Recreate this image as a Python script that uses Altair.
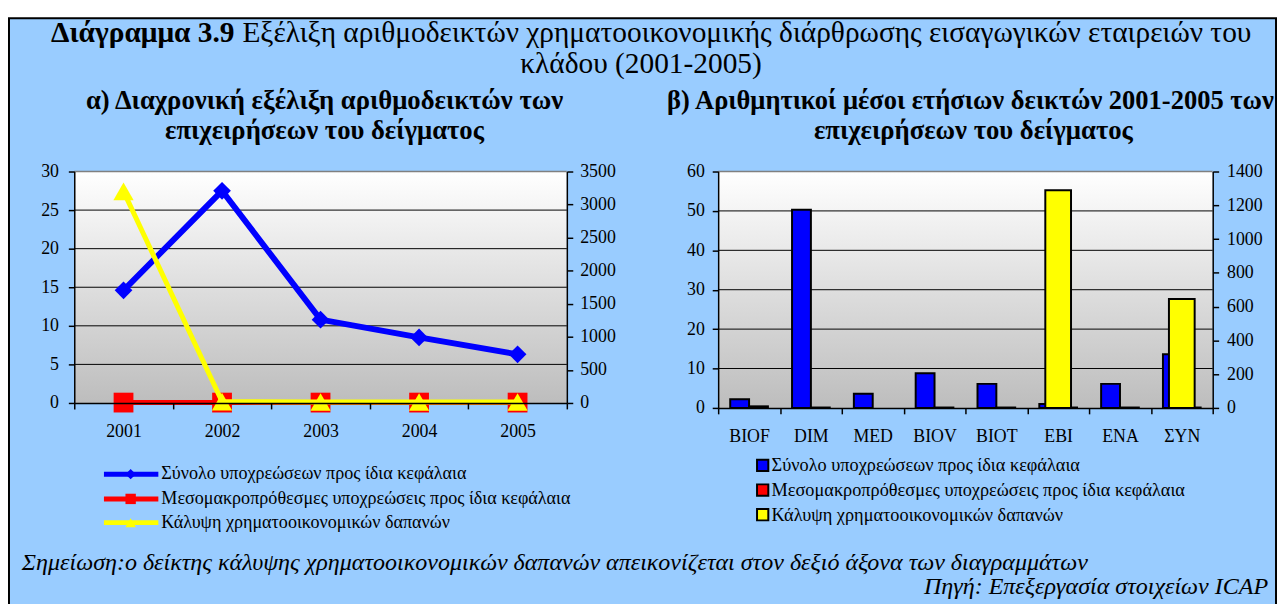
import altair as alt
import pandas as pd

# ---------------- data ----------------
years = ["2001", "2002", "2003", "2004", "2005"]
total_liab = [14.6, 27.5, 10.8, 8.5, 6.3]
longterm_liab = [0.05, 0.05, 0.05, 0.05, 0.05]
coverage = [3200, 20, 15, 15, 15]

firms = ["BIOF", "DIM", "MED", "BIOV", "BIOT", "EBI", "ENA", "ΣΥΝ"]
avg_total = [2.2, 50.3, 3.6, 8.8, 6.1, 1.0, 6.1, 13.6]
avg_longterm = [0.4, 0.1, 0.0, 0.1, 0.1, 0.1, 0.1, 0.1]
avg_coverage = [0, 0, 0, 0, 0, 1289, 0, 645]

series_names = [
    "Σύνολο υποχρεώσεων προς ίδια κεφάλαια",
    "Μεσομακροπρόθεσμες υποχρεώσεις προς ίδια κεφάλαια",
    "Κάλυψη χρηματοοικονομικών δαπανών",
]
series_colors = ["#0000FF", "#FF0000", "#FFFF00"]
line_shapes = ["diamond", "square", "triangle-up"]

left_ticks = [0, 5, 10, 15, 20, 25, 30]
left_right_ticks = [0, 500, 1000, 1500, 2000, 2500, 3000, 3500]
right_ticks = [0, 10, 20, 30, 40, 50, 60]
right_right_ticks = [0, 200, 400, 600, 800, 1000, 1200, 1400]

title_bold = "Διάγραμμα 3.9"
title_rest = "Εξέλιξη αριθμοδεικτών χρηματοοικονομικής διάρθρωσης εισαγωγικών εταιρειών του"
title_line2 = "κλάδου (2001-2005)"
sub_left = ["α) Διαχρονική εξέλιξη αριθμοδεικτών των", "επιχειρήσεων του δείγματος"]
sub_right = ["β) Αριθμητικοί μέσοι ετήσιων δεικτών 2001-2005 των", "επιχειρήσεων του δείγματος"]
note_text = "Σημείωση:ο δείκτης κάλυψης χρηματοοικονομικών δαπανών απεικονίζεται στον δεξιό άξονα των διαγραμμάτων"
source_text = "Πηγή: Επεξεργασία στοιχείων ICAP"

# ---------------- styling ----------------
FONT = "Liberation Serif"
BG = "#99CCFF"
W1, H1 = 498, 234
W2, H2 = 500, 239
one = pd.DataFrame({"k": [0]})


def txt(t, x, y, size, weight="normal", style="normal", align="left", baseline="alphabetic"):
    return alt.Chart(one).mark_text(
        text=t, font=FONT, fontSize=size, fontWeight=weight, fontStyle=style,
        align=align, baseline=baseline, color="black"
    ).encode(x=alt.value(x), y=alt.value(y))


def plot_bg(w, h):
    grad = alt.LinearGradient(
        gradient="linear",
        stops=[alt.GradientStop(color="#FFFFFF", offset=0),
               alt.GradientStop(color="#BDBDBD", offset=1)],
        x1=0, x2=0, y1=0, y2=1,
    )
    return alt.Chart(one).mark_rect(fill=grad).encode(
        x=alt.value(0), x2=alt.value(w), y=alt.value(0), y2=alt.value(h))


def top_border(w):
    return alt.Chart(one).mark_rule(color="#808080", strokeWidth=1.5).encode(
        x=alt.value(0), x2=alt.value(w), y=alt.value(0))


def yaxis(values, orient, pad):
    return alt.Axis(values=values, orient=orient, title=None, grid=False, format="d",
                    labelFont=FONT, labelFontSize=18, labelColor="black",
                    tickColor="black", tickSize=6, tickWidth=1.5,
                    domainColor="black", domainWidth=1.5, labelPadding=pad,
                    zindex=1, labelOverlap=False)


def xaxis(pad):
    return alt.Axis(title=None, labelAngle=0, tickBand="extent", grid=False,
                    labelFont=FONT, labelFontSize=18, labelColor="black",
                    tickColor="black", tickSize=6, tickWidth=1.5,
                    domainColor="black", domainWidth=1.5, labelPadding=pad,
                    zindex=1)


# ---------------- left panel: lines ----------------
dfB = pd.DataFrame({"year": years, "v": total_liab})
dfR = pd.DataFrame({"year": years, "v": longterm_liab})
dfY = pd.DataFrame({"year": years, "v2": coverage})
dfGL = pd.DataFrame({"v": left_ticks[1:-1]})

xL = alt.X("year:N", sort=years, scale=alt.Scale(type="band", paddingInner=0, paddingOuter=0), axis=xaxis(14))
yL = alt.Y("v:Q", scale=alt.Scale(domain=[0, 30], nice=False), axis=yaxis(left_ticks, "left", 10))
yL2 = alt.Y("v2:Q", scale=alt.Scale(domain=[0, 3500], nice=False), axis=yaxis(left_right_ticks, "right", 7))

gridL = alt.Chart(dfGL).mark_rule(color="black", strokeWidth=1).encode(
    y=yL, x=alt.value(0), x2=alt.value(W1))
blue_line = alt.Chart(dfB).mark_line(color=series_colors[0], strokeWidth=6).encode(x=xL, y=yL)
blue_pts = alt.Chart(dfB).mark_point(shape=line_shapes[0], filled=True, size=320, opacity=1,
                                     color=series_colors[0]).encode(x=xL, y=yL)
red_line = alt.Chart(dfR).mark_line(color=series_colors[1], strokeWidth=5).encode(x=xL, y=yL)
red_pts = alt.Chart(dfR).mark_point(shape=line_shapes[1], filled=True, size=400, opacity=1,
                                    color=series_colors[1]).encode(x=xL, y=yL)
yel_line = alt.Chart(dfY).mark_line(color=series_colors[2], strokeWidth=5).encode(x=xL, y=yL2)
yel_pts = alt.Chart(dfY).mark_point(shape=line_shapes[2], filled=True, size=420, opacity=1,
                                    color=series_colors[2]).encode(x=xL, y=yL2)

innerL = alt.layer(gridL, blue_line, blue_pts, red_line, red_pts)
yellowL = alt.layer(yel_line, yel_pts)

# frame box and texts (coordinates relative to left plot origin)
box = alt.Chart(one).mark_rect(fill=BG, stroke="black", strokeWidth=2).encode(
    x=alt.value(-66), x2=alt.value(1215), y=alt.value(-155), y2=alt.value(440))

decor_left = [
    txt(title_bold, 162, -131, 29.7, weight="bold", align="right"),
    txt(title_rest, 170, -131, 29.7),
    txt(title_line2, 573, -100, 29.7, align="center"),
    txt(sub_left[0], 253, -63, 27, weight="bold", align="center"),
    txt(sub_left[1], 253, -33, 27, weight="bold", align="center"),
    txt(note_text, -53, 403, 24.3, style="italic"),
    txt(source_text, 1207, 427, 24.3, style="italic", align="right"),
]
legend_rows_L = [306, 331, 355]
for name, col, shp, ry in zip(series_names, series_colors, line_shapes, legend_rows_L):
    decor_left.append(alt.Chart(one).mark_rule(color=col, strokeWidth=5).encode(
        x=alt.value(30), x2=alt.value(85), y=alt.value(ry)))
    decor_left.append(alt.Chart(one).mark_point(shape=shp, filled=True, size=110, opacity=1, color=col).encode(
        x=alt.value(57), y=alt.value(ry)))
    decor_left.append(txt(name, 88, ry, 18.3, baseline="middle"))

left = alt.layer(box, plot_bg(W1, H1), innerL, yellowL, top_border(W1), *decor_left).resolve_scale(
    y="independent").properties(width=W1, height=H1)

# ---------------- right panel: bars ----------------
bar_rows = []
for f, a, b in zip(firms, avg_total, avg_longterm):
    bar_rows.append({"firm": f, "s": "a", "v": a})
    bar_rows.append({"firm": f, "s": "b", "v": b})
dfBars = pd.DataFrame(bar_rows)
dfYB = pd.DataFrame({"firm": firms, "v2": avg_coverage})
dfGR = pd.DataFrame({"v": right_ticks[1:-1]})

xR = alt.X("firm:N", sort=firms, scale=alt.Scale(paddingInner=0, paddingOuter=0), axis=xaxis(14))
yR = alt.Y("v:Q", scale=alt.Scale(domain=[0, 60], nice=False), axis=yaxis(right_ticks, "left", 8))
yR2 = alt.Y("v2:Q", scale=alt.Scale(domain=[0, 1400], nice=False), axis=yaxis(right_right_ticks, "right", 8))

gridR = alt.Chart(dfGR).mark_rule(color="black", strokeWidth=1).encode(
    y=yR, x=alt.value(0), x2=alt.value(W2))
bars = alt.Chart(dfBars).transform_filter("datum.v > 0").mark_bar(stroke="black", strokeWidth=2).encode(
    x=xR,
    xOffset=alt.XOffset("s:N", sort=["a", "b"], scale=alt.Scale(paddingOuter=0.64, paddingInner=0)),
    y=yR,
    color=alt.Color("s:N", scale=alt.Scale(domain=["a", "b"], range=series_colors[:2]), legend=None),
)
ybars = alt.Chart(dfYB).transform_filter("datum.v2 > 0").mark_bar(
    size=26, color=series_colors[2], stroke="black", strokeWidth=2).encode(x=xR, y=yR2)

innerR = alt.layer(gridR, bars)

decor_right = [
    txt(sub_right[0], 255, -63, 26.8, weight="bold", align="center"),
    txt(sub_right[1], 258, -33, 27, weight="bold", align="center"),
]
legend_rows_R = [297, 322, 347]
for name, col, ry in zip(series_names, series_colors, legend_rows_R):
    decor_right.append(alt.Chart(one).mark_point(shape="square", filled=True, size=130, opacity=1,
                                                 fill=col, stroke="black", strokeWidth=2).encode(
        x=alt.value(45), y=alt.value(ry)))
    decor_right.append(txt(name, 54, ry, 18.5, baseline="middle"))

right = alt.layer(plot_bg(W2, H2), innerR, ybars, top_border(W2), *decor_right).resolve_scale(
    y="independent").properties(width=W2, height=H2)

chart = alt.hconcat(left, right, spacing=153, bounds="flush").properties(
    padding={"left": 0, "top": 6, "right": 0, "bottom": 0}
).configure_view(stroke=None)

chart.save("out.html", embed_options={"renderer": "svg", "actions": False})
